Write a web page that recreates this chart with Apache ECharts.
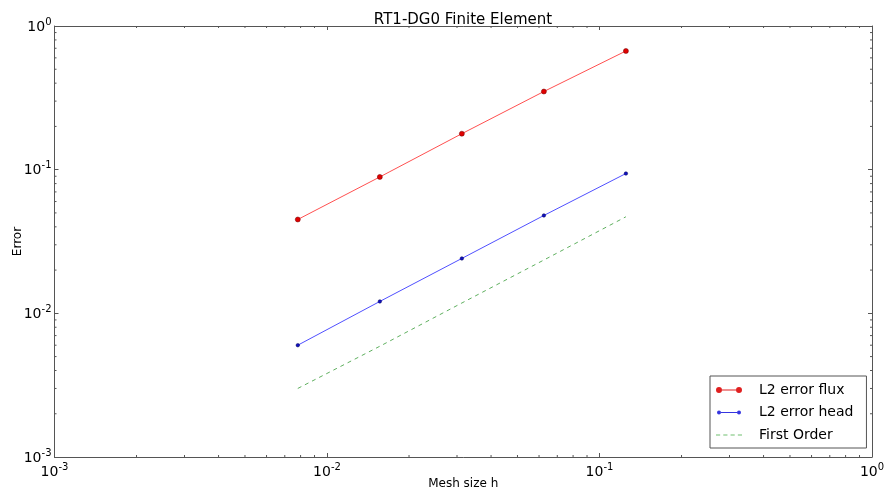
<!DOCTYPE html>
<html>
<head>
<meta charset="utf-8">
<script src="https://cdn.jsdelivr.net/npm/echarts@6/dist/echarts.min.js"></script>
<style>html,body{margin:0;padding:0;background:#fff}#c{width:886px;height:496px}</style>
</head>
<body>
<div id="c"></div>
<script>
const titleText = 'RT1-DG0 Finite Element';
const xName = 'Mesh size h';
const yName = 'Error';
const meshSize = [0.0078125, 0.015625, 0.03125, 0.0625, 0.125];
const fluxError = [0.045, 0.089, 0.178, 0.35, 0.67];
const headError = [0.006, 0.0121, 0.0241, 0.048, 0.094];
const firstOrder = [0.003, 0.0059, 0.0118, 0.0235, 0.047];
const seriesNames = ['L2 error flux', 'L2 error head', 'First Order'];
const decades = [-3, -2, -1, 0];

const FONT = 'DejaVu Sans';
const AXIS = '#555';

function supLabel(v) {
  const e = Math.round(Math.log10(v));
  return '{b|10}{s|' + e + '}';
}
const richLbl = {
  b: { fontFamily: FONT, fontSize: 14, color: '#000', verticalAlign: 'bottom', lineHeight: 16 },
  s: { fontFamily: FONT, fontSize: 10, color: '#000', verticalAlign: 'bottom', lineHeight: 16, padding: [0, 0, 7, 0] }
};

function pair(xs, ys) { return xs.map((x, i) => [x, ys[i]]); }

const chart = echarts.init(document.getElementById('c'), null, { renderer: 'canvas' });

const fluxIcon = 'path://M0,3 a3,3 0 1,0 6,0 a3,3 0 1,0 -6,0 Z M6,2.5 L20,2.5 L20,3.5 L6,3.5 Z M20,3 a3,3 0 1,0 6,0 a3,3 0 1,0 -6,0 Z';
const headIcon = 'path://M1,3 a2,2 0 1,0 4,0 a2,2 0 1,0 -4,0 Z M5,2.5 L21,2.5 L21,3.5 L5,3.5 Z M21,3 a2,2 0 1,0 4,0 a2,2 0 1,0 -4,0 Z M0,0 L0.01,0 L0.01,0.01 Z M26,6 L25.99,6 L25.99,5.99 Z';
const dashIcon = 'path://M1,0 L5,0 L5,1 L1,1 Z M8,0 L12,0 L12,1 L8,1 Z M15,0 L19,0 L19,1 L15,1 Z M22,0 L26,0 L26,1 L22,1 Z';

const logAxisBase = {
  type: 'log', logBase: 10, min: 0.001, max: 1,
  axisLine: { show: true, lineStyle: { color: AXIS, width: 1 } },
  axisTick: { show: true, inside: true, length: 4, lineStyle: { color: AXIS } },
  splitLine: { show: false },
  minorTick: { show: false }
};

const option = {
  animation: false,
  backgroundColor: '#fff',
  title: {
    text: titleText, left: 458, top: 8, textAlign: 'center',
    textStyle: { fontFamily: FONT, fontSize: 15, fontWeight: 'normal', color: '#000' }
  },
  grid: { left: 54.5, right: 14, top: 26, bottom: 39, containLabel: false, outerBoundsMode: 'none' },
  legend: {
    orient: 'vertical', left: 710, top: 376,
    padding: [6, 13, 5, 6], itemGap: 6.5,
    itemWidth: 26, itemHeight: 14,
    borderColor: '#555', borderWidth: 1, borderRadius: 0, backgroundColor: '#fff',
    itemStyle: { borderWidth: 0 },
    textStyle: { fontFamily: FONT, fontSize: 14, color: '#000', padding: [0, 0, 0, 12], lineHeight: 16 },
    data: [
      { name: seriesNames[0], icon: fluxIcon, itemStyle: { color: '#e02020', borderWidth: 0 } },
      { name: seriesNames[1], icon: headIcon, itemStyle: { color: '#3535e0', borderWidth: 0 } },
      { name: seriesNames[2], icon: dashIcon, itemStyle: { color: '#70c070', borderWidth: 0 } }
    ]
  },
  xAxis: [
    Object.assign({}, logAxisBase, {
      position: 'bottom',
      name: xName, nameLocation: 'middle', nameGap: 21, nameMoveOverlap: false,
      nameTextStyle: { fontFamily: FONT, fontSize: 12, color: '#000' },
      axisLabel: { show: true, margin: 6, formatter: supLabel, rich: richLbl }
    }),
    Object.assign({}, logAxisBase, { position: 'top', axisLabel: { show: false } })
  ],
  yAxis: [
    Object.assign({}, logAxisBase, {
      position: 'left',
      name: yName, nameLocation: 'middle', nameGap: 31, nameRotate: 90, nameMoveOverlap: false,
      nameTextStyle: { fontFamily: FONT, fontSize: 12, color: '#000' },
      axisLabel: { show: true, margin: 3, formatter: supLabel, rich: richLbl }
    }),
    Object.assign({}, logAxisBase, { position: 'right', axisLabel: { show: false } })
  ],
  series: [
    {
      name: seriesNames[0], type: 'line', data: pair(meshSize, fluxError),
      symbol: 'circle', symbolSize: 5, showSymbol: true,
      lineStyle: { color: '#ff5050', width: 1 },
      itemStyle: { color: '#e00000', borderColor: '#700000', borderWidth: 0.5 },
      emphasis: { disabled: true }
    },
    {
      name: seriesNames[1], type: 'line', data: pair(meshSize, headError),
      symbol: 'circle', symbolSize: 3.5, showSymbol: true,
      lineStyle: { color: '#5050ff', width: 1 },
      itemStyle: { color: '#1010c0', borderColor: '#000050', borderWidth: 0.5 },
      emphasis: { disabled: true }
    },
    {
      name: seriesNames[2], type: 'line', data: pair(meshSize, firstOrder),
      symbol: 'none', showSymbol: false,
      lineStyle: { color: '#5fb05f', width: 1, type: [4, 4] },
      emphasis: { disabled: true }
    }
  ]
};

chart.setOption(option);

// minor log ticks drawn in the frame, positioned through the axes' own scales
const minorVals = [];
decades.slice(0, -1).forEach(e => { for (let m = 2; m <= 9; m++) minorVals.push(m * Math.pow(10, e)); });
const gEls = [];
const L = 2;
const xb = chart.convertToPixel({ yAxisIndex: 0 }, 0.001);
const xt = chart.convertToPixel({ yAxisIndex: 0 }, 1);
const yl = chart.convertToPixel({ xAxisIndex: 0 }, 0.001);
const yr = chart.convertToPixel({ xAxisIndex: 0 }, 1);
minorVals.forEach(v => {
  const px = chart.convertToPixel({ xAxisIndex: 0 }, v);
  gEls.push({ type: 'line', silent: true, shape: { x1: px, y1: xb, x2: px, y2: xb - L }, style: { stroke: AXIS, lineWidth: 1 } });
  gEls.push({ type: 'line', silent: true, shape: { x1: px, y1: xt, x2: px, y2: xt + L }, style: { stroke: AXIS, lineWidth: 1 } });
  const py = chart.convertToPixel({ yAxisIndex: 0 }, v);
  gEls.push({ type: 'line', silent: true, shape: { x1: yl, y1: py, x2: yl + L, y2: py }, style: { stroke: AXIS, lineWidth: 1 } });
  gEls.push({ type: 'line', silent: true, shape: { x1: yr, y1: py, x2: yr - L, y2: py }, style: { stroke: AXIS, lineWidth: 1 } });
});
chart.setOption({ graphic: { elements: gEls } });
</script>
</body>
</html>
